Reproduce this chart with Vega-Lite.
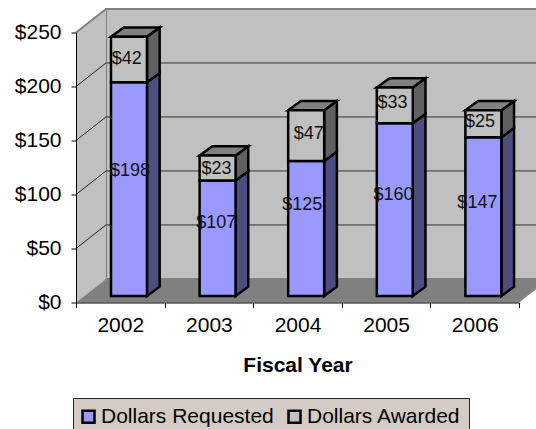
{
"$schema":"https://vega.github.io/schema/vega-lite/v6.json",
"width":443,"height":270,
"autosize":{"type":"none"},
"padding":{"left":76,"top":32.5,"right":17,"bottom":126.5},
"background":"white",
"config":{"view":{"stroke":null},"font":"Liberation Sans"},
"datasets":{
"bars":[
{"year":2002,"series":"Dollars Requested","value":198},{"year":2002,"series":"Dollars Awarded","value":42},
{"year":2003,"series":"Dollars Requested","value":107},{"year":2003,"series":"Dollars Awarded","value":23},
{"year":2004,"series":"Dollars Requested","value":125},{"year":2004,"series":"Dollars Awarded","value":47},
{"year":2005,"series":"Dollars Requested","value":160},{"year":2005,"series":"Dollars Awarded","value":33},
{"year":2006,"series":"Dollars Requested","value":147},{"year":2006,"series":"Dollars Awarded","value":25}
],
"ticks":[{"tick":50},{"tick":100},{"tick":150},{"tick":200}]
},
"layer":[
{"data":{"values":[{}]},"mark":{"type":"rect","fill":"#C0C0C0","stroke":"#808080","strokeWidth":2},
 "encoding":{"x":{"datum":0.3386,"type":"quantitative","scale":{"domain":[0,5],"nice":false,"zero":false},
   "axis":{"values":[0,1,2,3,4,5],"title":"Fiscal Year","titleFont":"Liberation Sans","titleFontSize":21,"titleFontWeight":"bold","titleColor":"#000","titlePadding":19,"labelFont":"Liberation Sans","labelFontSize":21,"labelColor":"#000","labelPadding":7,"labelOffset":44.3,"labelOverlap":false,"labelFlush":false,"labelBound":false,"labelExpr":"datum.value<5?''+(2002+datum.value):''","tickSize":5,"tickColor":"#000","domainColor":"#000","grid":false,"zindex":1}},
  "x2":{"datum":5.4},
  "y":{"datum":21.8,"type":"quantitative","scale":{"domain":[0,250],"nice":false,"zero":false},
   "axis":{"values":[0,50,100,150,200,250],"format":"$d","title":null,"labelFont":"Liberation Sans","labelFontSize":21,"labelColor":"#000","labelPadding":10,"tickSize":5,"tickColor":"#000","domainColor":"#000","grid":false,"zindex":1}},
  "y2":{"datum":271.8}}},
{"data":{"values":[{"t":0},{"t":1}]},
 "transform":[{"calculate":"datum.t*0.3386","as":"xd"},{"calculate":"datum.t*21.8","as":"yb"},{"calculate":"250+datum.t*21.8","as":"yt"}],
 "mark":{"type":"area","fill":"#C0C0C0","stroke":null},
 "encoding":{"x":{"field":"xd","type":"quantitative"},"y":{"field":"yb","type":"quantitative"},"y2":{"field":"yt"}}},
{"data":{"values":[{"t":0},{"t":1}]},
 "transform":[{"calculate":"datum.t*21.8","as":"yd"},{"calculate":"datum.t*0.3386","as":"xa"},{"calculate":"5+datum.t*0.3386","as":"xb"}],
 "mark":{"type":"area","orient":"horizontal","fill":"#808080"},
 "encoding":{"y":{"field":"yd","type":"quantitative"},"x":{"field":"xa","type":"quantitative"},"x2":{"field":"xb"}}},
{"data":{"values":[{}]},"mark":{"type":"rule","stroke":"#808080","strokeWidth":2},
 "encoding":{"x":{"datum":0},"x2":{"datum":0.3386},"y":{"datum":250},"y2":{"datum":271.8}}},
{"data":{"name":"ticks"},"transform":[{"calculate":"datum.tick+21.8","as":"back"}],
 "layer":[
 {"mark":{"type":"rule","stroke":"#222","strokeWidth":1},
  "encoding":{"x":{"datum":0},"x2":{"datum":0.3386},"y":{"field":"tick","type":"quantitative"},"y2":{"field":"back"}}},
 {"mark":{"type":"rule","stroke":"#333","strokeWidth":1},
  "encoding":{"x":{"datum":0.3386},"x2":{"datum":5.4},"y":{"field":"back","type":"quantitative"}}}
 ]},
{"data":{"name":"bars"},
 "transform":[
  {"stack":"value","groupby":["year"],"sort":[{"field":"series","order":"descending"}],"as":["s0","s1"]},
  {"calculate":"datum.year-2002","as":"i"},
  {"calculate":"datum.i+0.395","as":"x0"},
  {"calculate":"datum.x0+0.406","as":"x1"},
  {"calculate":"datum.s0+6","as":"b0"},
  {"calculate":"datum.s1+6","as":"b1"},
  {"calculate":"datum.year+datum.series","as":"key"}
 ],
 "layer":[
 {"transform":[{"calculate":"[0,1]","as":"t"},{"flatten":["t"]},
   {"calculate":"datum.x1+datum.t*0.1433","as":"xs"},{"calculate":"datum.b0+datum.t*8.6","as":"ya"},{"calculate":"datum.b1+datum.t*8.6","as":"yb"}],
  "mark":{"type":"area","stroke":"#000","strokeWidth":2.5,"strokeJoin":"miter"},
  "encoding":{"x":{"field":"xs","type":"quantitative"},"y":{"field":"ya","type":"quantitative"},"y2":{"field":"yb"},"detail":{"field":"key"},
   "fill":{"condition":{"test":"datum.series==='Dollars Requested'","value":"#4D4D80"},"value":"#606060"}}},
 {"transform":[{"filter":"datum.series==='Dollars Awarded'"},{"calculate":"[0,1]","as":"t"},{"flatten":["t"]},
   {"calculate":"datum.x0+datum.t*0.1433","as":"xa"},{"calculate":"datum.x1+datum.t*0.1433","as":"xb"},{"calculate":"datum.b1+datum.t*8.6","as":"yy"}],
  "mark":{"type":"area","orient":"horizontal","fill":"#808080","stroke":"#000","strokeWidth":2.5,"strokeJoin":"miter"},
  "encoding":{"y":{"field":"yy","type":"quantitative"},"x":{"field":"xa","type":"quantitative"},"x2":{"field":"xb"},"detail":{"field":"key"}}},
 {"mark":{"type":"rect","stroke":"#000","strokeWidth":2.5},
  "encoding":{"x":{"field":"x0","type":"quantitative"},"x2":{"field":"x1"},"y":{"field":"b0","type":"quantitative"},"y2":{"field":"b1"},
   "fill":{"field":"series","type":"nominal","scale":{"domain":["Dollars Requested","Dollars Awarded"],"range":["#9999FF","#C0C0C0"]},
    "legend":{"title":null,"orient":"none","legendX":-3,"legendY":365.5,"direction":"horizontal","columns":2,"fillColor":"#D4CCC4","strokeColor":"#222","padding":8,"symbolType":"square","symbolSize":144,"symbolOffset":-3,"symbolStrokeColor":"#000","symbolStrokeWidth":2.5,"labelFont":"Liberation Sans","labelFontSize":21,"labelLimit":300,"labelColor":"#000","labelOffset":2,"columnPadding":9}}}},
 {"transform":[
   {"calculate":"(datum.x0+datum.x1)/2+(datum.series==='Dollars Requested'?[1,-1.3,-4,-1.3,-6]:[-2.3,-1,2.6,-2.3,-3.4])[datum.i]/88.6","as":"lx"},
   {"calculate":"(datum.b0+datum.b1)/2-(datum.series==='Dollars Requested'?[-18,-15.5,-23.5,-14.6,-14]:[-1,1.3,-1.3,-2,-1.4])[datum.i]/1.08","as":"ly"}],
  "mark":{"type":"text","font":"Liberation Sans","fontSize":18,"fill":"#111","baseline":"middle","align":"center"},
  "encoding":{"x":{"field":"lx","type":"quantitative"},"y":{"field":"ly","type":"quantitative"},"text":{"field":"value","type":"quantitative","format":"$d"}}}
 ]}
]
}
